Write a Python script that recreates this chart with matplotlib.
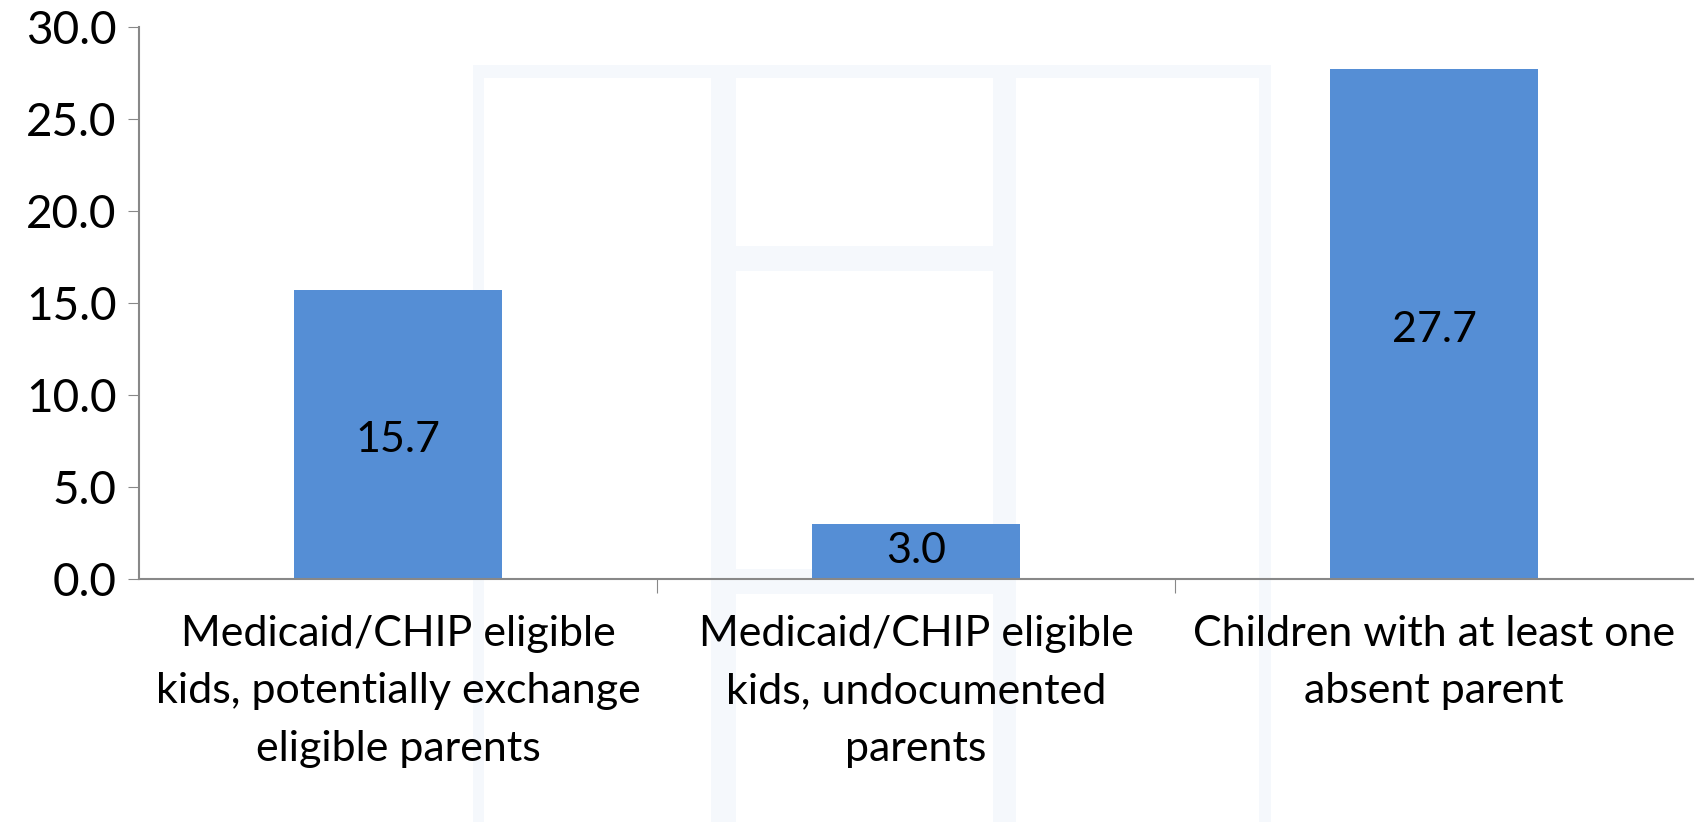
import matplotlib.pyplot as plt
from matplotlib.patches import Rectangle

categories = ["Medicaid/CHIP eligible\nkids, potentially exchange\neligible parents",
              "Medicaid/CHIP eligible\nkids, undocumented\nparents",
              "Children with at least one\nabsent parent"]
values = [15.7, 3.0, 27.7]
yticks = [0, 5, 10, 15, 20, 25, 30]

plt.rcParams['font.family'] = ['Lato', 'DejaVu Sans']

W, H = 1698, 822
fig = plt.figure(figsize=(W / 100, H / 100), dpi=100)

# faint background watermark shape (pixel coords, top-left origin)
def fig_rect(x0, y0, x1, y1, color):
    fig.patches.append(Rectangle((x0 / W, 1 - y1 / H), (x1 - x0) / W, (y1 - y0) / H,
                                 transform=fig.transFigure, facecolor=color,
                                 edgecolor='none', zorder=-5))

wm = '#f5f8fc'
fig_rect(473, 65, 1271, 822, wm)
fig_rect(484, 78, 711, 822, 'white')
fig_rect(736, 78, 993, 246, 'white')
fig_rect(736, 271, 993, 569, 'white')
fig_rect(736, 594, 993, 822, 'white')
fig_rect(1016, 78, 1259, 822, 'white')

ax = fig.add_axes([139 / W, 1 - 579 / H, (1693 - 139) / W, (579 - 27) / H])
ax.set_facecolor('none')
ax.set_zorder(2)

x = range(len(values))
ax.bar(x, values, width=0.4, color='#558ed5', zorder=2)
for i, v in zip(x, values):
    ax.text(i, v / 2 - 0.3 if v > 5 else v / 2, f"{v:.1f}", ha='center', va='center',
            fontsize=31, color='black', zorder=3)

ax.set_xlim(-0.5, len(values) - 0.5)
ax.set_ylim(0, 30)
ax.set_yticks(yticks)
ax.set_yticklabels([f"{t:.1f}" for t in yticks], fontsize=33)
ax.set_xticks([0.5, 1.5], minor=False)
ax.set_xticklabels([])
ax.set_xticks(list(x), minor=True)
ax.set_xticklabels(categories, minor=True, fontsize=31, linespacing=1.62,
                   multialignment='center')
ax.tick_params(axis='x', which='minor', length=0, pad=26)
ax.tick_params(axis='x', which='major', length=10, direction='out', color='#888888')
ax.tick_params(axis='y', length=8, color='#888888', pad=8)

for s in ['top', 'right']:
    ax.spines[s].set_visible(False)
for s in ['left', 'bottom']:
    ax.spines[s].set_color('#888888')
    ax.spines[s].set_linewidth(1.5)

fig.savefig('out.png', dpi=100)
